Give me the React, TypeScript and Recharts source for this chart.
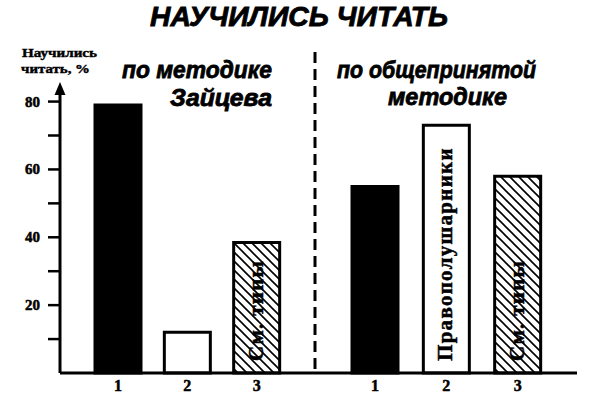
import React from 'react';
import { BarChart, Bar, XAxis, YAxis, Cell, LabelList } from 'recharts';

// ---- data ----
const categories = ['1', '2', '3'];
const zaitsevValues = [79, 12, 38.5];
const standardValues = [55, 73, 58];
const zaitsevNotes = ['', '', 'См. типы'];
const standardNotes = ['', 'Правополушарники', 'См. типы'];
const yTicks = [10, 20, 30, 40, 50, 60, 70, 80];
const yTickLabels = [20, 40, 60, 80];
const chartTitle = 'НАУЧИЛИСЬ ЧИТАТЬ';
const yAxisTitle = ['Научились', 'читать, %'];
const leftGroupTitle = ['по методике', 'Зайцева'];
const rightGroupTitle = ['по общепринятой', 'методике'];

const data = categories.map((c, i) => ({
  cat: c,
  zaitsev: zaitsevValues[i],
  standard: standardValues[i],
  zNote: zaitsevNotes[i],
  sNote: standardNotes[i],
}));

// ---- styles ----
const W = 606;
const H = 402;
const fills = ['#000', '#fff', 'url(#hatch)'];
const SERIF = '"Liberation Serif", "DejaVu Serif", serif';
const SANS = '"Liberation Sans", Arial, sans-serif';

const YTick = (props: any) => {
  const { x, y, payload } = props;
  if (!yTickLabels.includes(payload.value)) return null;
  return (
    <text x={x} y={y} dy={5} textAnchor="end" fontFamily={SERIF} fontWeight="bold" fontSize={15} fill="#000" stroke="#000" strokeWidth={0.5}>
      {payload.value}
    </text>
  );
};

const ArrowHead = (props: any) => {
  const vb = props.viewBox || {};
  const ax = (vb.x ?? 0) + (vb.width ?? 60);
  const top = vb.y ?? 88;
  return <polygon points={`${ax - 5.5},${top + 7} ${ax + 5.5},${top + 7} ${ax},${top - 6}`} fill="#000" />;
};

const CatLabel = (props: any) => {
  const { x, y, width, height, value } = props;
  const cx = Number(x) + Number(width) / 2;
  const bottom = Number(y) + Number(height);
  return (
    <text x={cx} y={bottom + 18} textAnchor="middle" fontFamily={SERIF} fontWeight="bold" fontSize={16} fill="#000" stroke="#000" strokeWidth={0.5}>
      {value}
    </text>
  );
};

const NoteLabel = (props: any) => {
  const { x, y, width, height, value } = props;
  if (!value) return null;
  const cx = Number(x) + Number(width) / 2;
  const bottom = Number(y) + Number(height);
  return (
    <text
      transform={`translate(${cx + 6},${bottom - 12}) rotate(-90)`}
      textAnchor="start"
      fontFamily={SERIF}
      fontWeight="bold"
      fontSize={21}
      letterSpacing={1.3}
      fill="#000"
      stroke="#000"
      strokeWidth={0.5}
    >
      {value}
    </text>
  );
};

const heavy = { stroke: '#000', strokeWidth: 0.8 };

export default function App() {
  return (
    <div style={{ position: 'absolute', left: 0, top: 0, width: W, height: H, background: '#fff' }}>
      <svg width={0} height={0} style={{ position: 'absolute' }}>
        <defs>
          <pattern id="hatch" patternUnits="userSpaceOnUse" width={9} height={9}>
            <rect width={9} height={9} fill="#fff" />
            <path d="M-1,-1 L10,10 M-1,8 L1,10 M8,-1 L10,1" stroke="#000" strokeWidth={1.6} />
          </pattern>
        </defs>
      </svg>
      <BarChart width={W} height={H} data={data} margin={{ top: 88, right: 29, bottom: 0, left: 0 }}>
        <XAxis
          xAxisId="a"
          dataKey="cat"
          type="category"
          padding={{ left: 23, right: 286 }}
          height={29}
          axisLine={{ stroke: '#000', strokeWidth: 3 }}
          tickLine={false}
          tick={false}
        />
        <XAxis xAxisId="b" dataKey="cat" type="category" padding={{ left: 279, right: 24 }} hide />
        <YAxis
          type="number"
          domain={[0, 84]}
          ticks={yTicks}
          interval={0}
          width={60}
          axisLine={{ stroke: '#000', strokeWidth: 3 }}
          tickLine={{ stroke: '#000', strokeWidth: 2.5 }}
          tickSize={12}
          tickMargin={8}
          tick={YTick}
          label={{ content: ArrowHead }}
        />
        <Bar dataKey="zaitsev" xAxisId="a" barSize={46} stroke="#000" strokeWidth={3} isAnimationActive={false}>
          {data.map((d, i) => (
            <Cell key={`z${i}`} fill={fills[i]} />
          ))}
          <LabelList dataKey="cat" content={CatLabel} />
          <LabelList dataKey="zNote" content={NoteLabel} />
        </Bar>
        <Bar dataKey="standard" xAxisId="b" barSize={46} stroke="#000" strokeWidth={3} isAnimationActive={false}>
          {data.map((d, i) => (
            <Cell key={`s${i}`} fill={fills[i]} />
          ))}
          <LabelList dataKey="cat" content={CatLabel} />
          <LabelList dataKey="sNote" content={NoteLabel} />
        </Bar>
      </BarChart>
      <svg
        width={W}
        height={H}
        style={{ position: 'absolute', left: 0, top: 0, pointerEvents: 'none' }}
      >
        <text x={150} y={26} fontFamily={SANS} fontWeight="bold" fontStyle="italic" fontSize={27} textLength={298} lengthAdjust="spacingAndGlyphs" fill="#000" {...heavy}>
          {chartTitle}
        </text>
        <text x={22} y={57} fontFamily={SERIF} fontWeight="bold" fontSize={12} textLength={75} lengthAdjust="spacingAndGlyphs" fill="#000" stroke="#000" strokeWidth={0.4}>
          {yAxisTitle[0]}
        </text>
        <text x={21} y={73} fontFamily={SERIF} fontWeight="bold" fontSize={12} textLength={69} lengthAdjust="spacingAndGlyphs" fill="#000" stroke="#000" strokeWidth={0.4}>
          {yAxisTitle[1]}
        </text>
        <text x={122} y={78} fontFamily={SANS} fontWeight="bold" fontStyle="italic" fontSize={24} textLength={150} lengthAdjust="spacingAndGlyphs" fill="#000" {...heavy}>
          {leftGroupTitle[0]}
        </text>
        <text x={170} y={106} fontFamily={SANS} fontWeight="bold" fontStyle="italic" fontSize={24} textLength={102} lengthAdjust="spacingAndGlyphs" fill="#000" {...heavy}>
          {leftGroupTitle[1]}
        </text>
        <text x={337} y={78} fontFamily={SANS} fontWeight="bold" fontStyle="italic" fontSize={24} textLength={199} lengthAdjust="spacingAndGlyphs" fill="#000" {...heavy}>
          {rightGroupTitle[0]}
        </text>
        <text x={388} y={105} fontFamily={SANS} fontWeight="bold" fontStyle="italic" fontSize={24} textLength={119} lengthAdjust="spacingAndGlyphs" fill="#000" {...heavy}>
          {rightGroupTitle[1]}
        </text>
        <line x1={315} y1={52} x2={315} y2={372} stroke="#000" strokeWidth={3} strokeDasharray="11 6" />
      </svg>
    </div>
  );
}
